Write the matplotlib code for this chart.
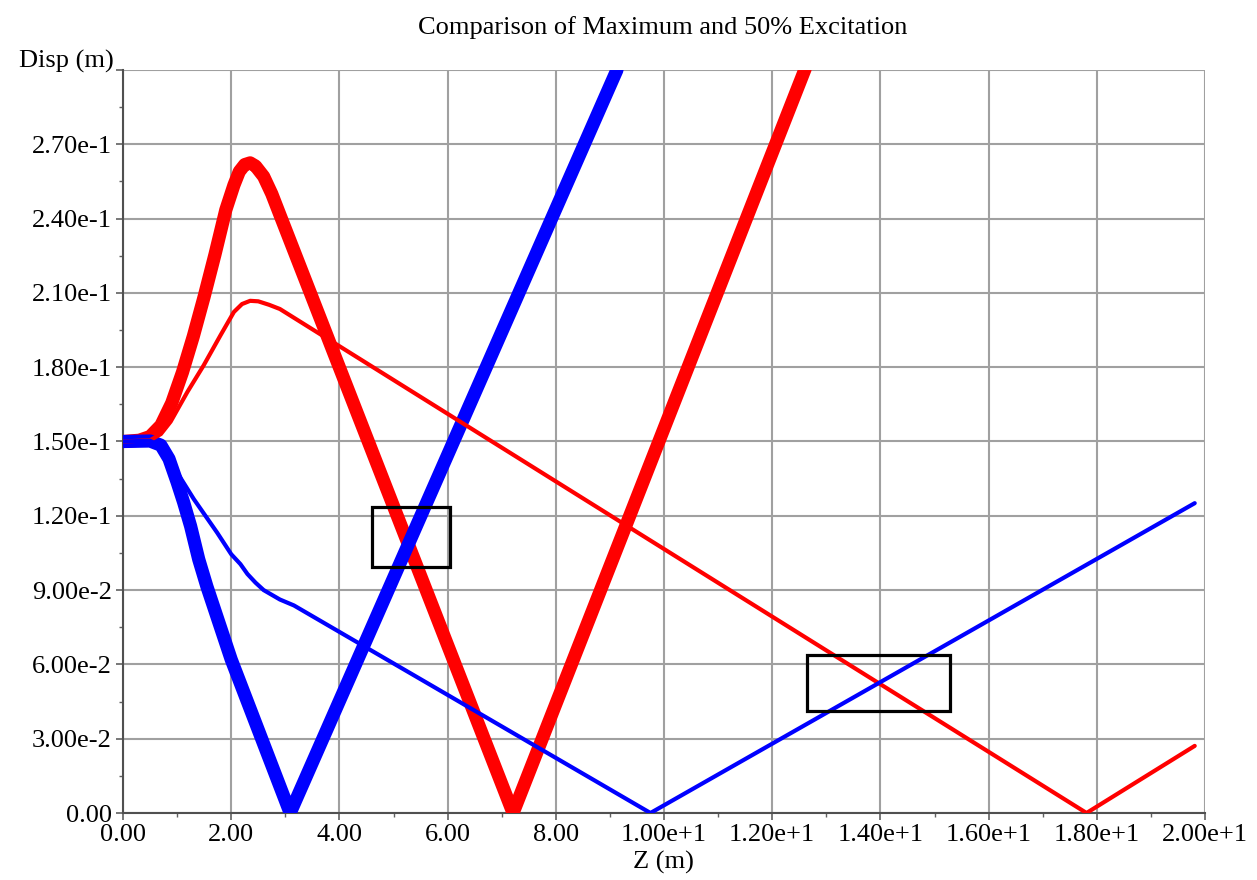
import matplotlib
matplotlib.use("Agg")
import matplotlib.pyplot as plt
from matplotlib.patches import Rectangle
from matplotlib.ticker import MultipleLocator, FuncFormatter

# thick red: maximum excitation, vertical plane
z_max_y = [0.0, 0.3, 0.5, 0.7, 0.9, 1.1, 1.3, 1.5, 1.7, 1.9, 2.05, 2.15,
           2.25, 2.35, 2.45, 2.60, 2.75, 2.91, 7.21, 12.61]
d_max_y = [0.150, 0.1505, 0.152, 0.1565, 0.1655, 0.178, 0.1925, 0.2085,
           0.2255, 0.2435, 0.2535, 0.2590, 0.2618, 0.2625, 0.2612, 0.2570,
           0.2500, 0.2410, 0.0, 0.3005]

# thick blue: maximum excitation, horizontal plane
z_max_x = [0.0, 0.5, 0.7, 0.85, 1.0, 1.12, 1.25, 1.40, 1.55, 2.0, 3.09, 9.13]
d_max_x = [0.150, 0.1502, 0.1485, 0.1430, 0.1336, 0.1255, 0.1158, 0.1024,
           0.0915, 0.062, 0.0, 0.300]

# thin red: 50% excitation, vertical plane
z_half_y = [0.0, 0.5, 0.7, 0.88, 1.19, 1.49, 1.80, 2.05, 2.2, 2.35, 2.5,
            2.7, 2.9, 17.81, 19.81]
d_half_y = [0.150, 0.1505, 0.153, 0.158, 0.170, 0.1807, 0.1928, 0.2023,
            0.2055, 0.2068, 0.2066, 0.2052, 0.2035, 0.0, 0.0271]

# thin blue: 50% excitation, horizontal plane
z_half_x = [0.0, 0.5, 0.7, 0.88, 1.31, 1.74, 2.0, 2.17, 2.3, 2.45, 2.6,
            2.9, 3.16, 9.75, 19.81]
d_half_x = [0.150, 0.1503, 0.148, 0.1417, 0.1267, 0.1132, 0.1045, 0.1005,
            0.0965, 0.0930, 0.0900, 0.0862, 0.0838, 0.0, 0.1251]

# highlighted crossing regions (z0, d0, z1, d1)
boxes = [(4.61, 0.0992, 6.05, 0.1235), (12.65, 0.0412, 15.28, 0.0636)]


def fmt_x(v, pos):
    if v >= 10:
        return "%.2fe+1" % (v / 10)
    return "%.2f" % v


def fmt_y(v, pos):
    if abs(v) < 1e-9:
        return "0.00"
    if v > 0.299:
        return ""
    if v >= 0.1:
        return "%.2fe-1" % (v * 10)
    return "%.2fe-2" % (v * 100)


def main():
    plt.rcParams['font.family'] = ['Liberation Serif', 'DejaVu Serif']
    fig = plt.figure(figsize=(12.57, 8.8), dpi=100)
    ax = fig.add_axes([123 / 1257, 67 / 880, 1082 / 1257, 743 / 880])

    ax.plot(z_max_y, d_max_y, color="#ff0000", lw=9.5,
            solid_capstyle="round", solid_joinstyle="round", zorder=3)
    ax.plot(z_max_x, d_max_x, color="#0000ff", lw=9.5,
            solid_capstyle="round", solid_joinstyle="round", zorder=4)
    ax.plot(z_half_y, d_half_y, color="#ff0000", lw=3.0,
            solid_capstyle="round", solid_joinstyle="round", zorder=5)
    ax.plot(z_half_x, d_half_x, color="#0000ff", lw=3.0,
            solid_capstyle="round", solid_joinstyle="round", zorder=6)

    for z0, d0, z1, d1 in boxes:
        ax.add_patch(Rectangle((z0, d0), z1 - z0, d1 - d0, fill=False,
                               edgecolor="black", lw=2.3, zorder=7))

    ax.set_xlim(0, 20)
    ax.set_ylim(0, 0.30)
    ax.xaxis.set_major_locator(MultipleLocator(2))
    ax.xaxis.set_minor_locator(MultipleLocator(1))
    ax.yaxis.set_major_locator(MultipleLocator(0.03))
    ax.yaxis.set_minor_locator(MultipleLocator(0.015))
    ax.xaxis.set_major_formatter(FuncFormatter(fmt_x))
    ax.yaxis.set_major_formatter(FuncFormatter(fmt_y))
    ax.grid(True, which="major", color="#a0a0a0", lw=1.5)
    ax.set_axisbelow(True)
    ax.tick_params(which="both", direction="out", color="#606060",
                   labelsize=19, pad=3)
    ax.tick_params(which="major", length=5, width=1.2)
    ax.tick_params(which="minor", length=3, width=1.0)
    for side in ["top", "right"]:
        ax.spines[side].set_visible(False)
    for side in ["left", "bottom"]:
        ax.spines[side].set_color("#505050")
        ax.spines[side].set_linewidth(1.5)

    ax.text(-0.009, 1.012, "Disp (m)", transform=ax.transAxes,
            ha="right", va="center", fontsize=19)
    fig.text(663 / 1257, 1 - 28 / 880,
             "Comparison of Maximum and 50% Excitation",
             ha="center", va="center", fontsize=19)
    fig.text(663 / 1257, 1 - 862 / 880, "Z (m)",
             ha="center", va="center", fontsize=19)

    fig.savefig("out.png", dpi=100, facecolor="white")


if __name__ == "__main__":
    main()
